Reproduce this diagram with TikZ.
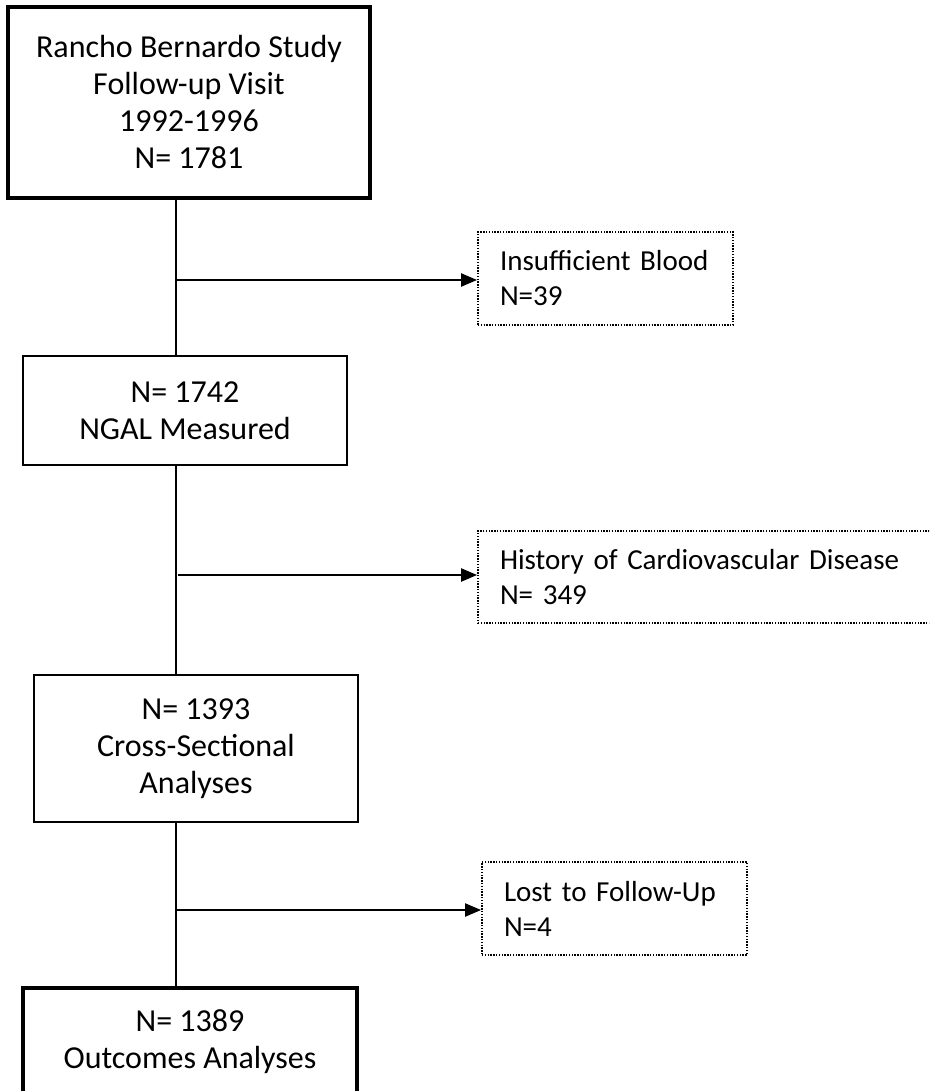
\documentclass[tikz,border=0pt]{standalone}
\usepackage{fontspec}
\setmainfont{Carlito}
\usetikzlibrary{arrows.meta}
\begin{document}
\begin{tikzpicture}[x=1pt,y=-1pt,
  every node/.style={font=\fontsize{32}{37}\selectfont, inner sep=0pt},
  mainbox/.style={draw, line width=2pt, align=center},
  thickbox/.style={draw, line width=4pt, align=center},
  sidebox/.style={draw, line width=1.8pt, dash pattern=on 1.4pt off 1.4pt, align=left, inner xsep=22pt,
    font=\fontsize{29}{35}\selectfont},
  flow/.style={line width=2pt},
  arr/.style={line width=2.2pt, -{Triangle[length=16pt,width=13pt]}}]
\useasboundingbox (0,0) rectangle (929,1091);
\clip (0,0) rectangle (929,1091);
\fill[white] (0,0) rectangle (929,1091);
\node[thickbox, minimum width=362pt, minimum height=191pt] (b1) at (189,102.5)
  {Rancho Bernardo Study\\Follow-up Visit\\1992-1996\\N= 1781};
\node[mainbox, minimum width=324pt, minimum height=109pt] (b2) at (185,410.5)
  {N= 1742\\NGAL Measured};
\node[mainbox, minimum width=324pt, minimum height=147pt] (b3) at (196,748.5)
  {N= 1393\\Cross-Sectional\\Analyses};
\node[thickbox, minimum width=334pt, minimum height=108pt] (b4) at (190,1042)
  {N= 1389\\Outcomes Analyses};
\node[sidebox, text width=211pt, minimum height=93pt] (s1) at (605.5,278.5)
  {\mbox{Insufficient Blood}\\\mbox{N=39}};
\node[sidebox, text width=413pt, minimum height=92pt] (s2) at (706.5,577)
  {\mbox{History of Cardiovascular Disease}\\\mbox{N= 349}};
\node[sidebox, text width=221pt, minimum height=93pt] (s3) at (614.5,908.5)
  {\mbox{Lost to Follow-Up}\\\mbox{N=4}};
\coordinate (spine) at (176,0);
\coordinate (j1) at (176,280);
\coordinate (j2) at (178,575);
\coordinate (j3) at (176,910);
\draw[flow] (b1.south -| spine) -- (b2.north -| spine);
\draw[flow] (b2.south -| spine) -- (b3.north -| spine);
\draw[flow] (b3.south -| spine) -- (b4.north -| spine);
\draw[arr] (j1) -- (j1 -| s1.west);
\draw[arr] (j2) -- (j2 -| s2.west);
\draw[arr] (j3) -- (j3 -| s3.west);
\end{tikzpicture}
\end{document}
